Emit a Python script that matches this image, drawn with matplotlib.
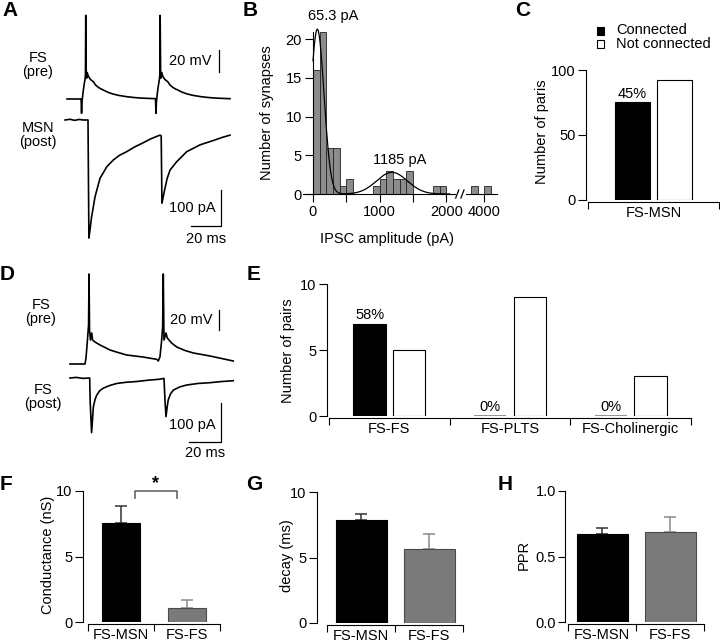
import numpy as np
import matplotlib
matplotlib.use('Agg')
import matplotlib.pyplot as plt
from matplotlib.patches import Rectangle

plt.rcParams['font.family'] = ['Liberation Sans', 'DejaVu Sans']
plt.rcParams['font.size'] = 10.5

# ---------------- data ----------------
# Panel A traces (time in ms, pre in mV, post in pA)
a_pre_t = [0, 9.4, 9.7, 10.0, 10.6, 11.3, 12.0, 12.3, 12.5, 12.8, 13.1, 13.5, 13.9, 14.6, 15.5,
           16.5, 17.6, 19.0, 20.9, 22.5, 24.2, 27, 30, 34, 39.8, 45, 50, 55, 59.0,
           59.3, 59.6, 60.2, 60.9, 61.6, 61.9, 62.1, 62.4, 62.7, 63.1, 63.5, 64.2, 65.1,
           66.1, 67.2, 68.6, 70.5, 72.1, 73.8, 76.6, 79.6, 83.6, 89.4, 94.6, 99.6, 104.6, 108.7]
a_pre_mv = [0, 0, -13, -3, 5, 12, 18, 22, 76, 26, 19, 24, 22, 20, 18,
            16.8, 15.7, 12.8, 10.6, 9.3, 8.2, 6.3, 4.8, 3.4, 2.1, 1.3, 0.8, 0.5, 0.3,
            -13, -3, 5, 12, 18, 22, 76, 26, 19, 24, 22, 20, 18,
            16.8, 15.7, 12.8, 10.6, 9.3, 8.2, 6.3, 4.8, 3.4, 2.1, 1.3, 0.8, 0.5, 0.3]
a_post_t = [-1.3, 2, 5, 8, 11, 14.0, 14.6, 15.3, 16.4, 18.7, 22, 26.5, 30.9, 35, 39.8, 45,
            50.9, 56, 62, 62.8, 63.3, 64.2, 65.3, 66.8, 68.7, 73.1, 79.8, 88.7, 97.5, 103, 108.7]
a_post_pa = [0, 2, -1, 1.5, 0, 0, -328, -306, -269, -213, -162, -130, -111, -98, -88, -75,
             -63, -52, -42, -44, -231, -212, -190, -162, -139, -116, -88, -69, -57, -49, -42]

# Panel D traces
d_pre_t = [0, 9.4, 10.0, 10.9, 11.6, 11.9, 12.2, 12.8, 13.6, 14.1, 15.6, 18.75, 21.9, 25, 30,
           35.4, 40.5, 45.6, 50, 54.2, 55.2, 56.25, 57.3, 57.9, 58.3, 58.75, 60.0, 60.8, 63.5,
           66.7, 71.9, 77.1, 82.3, 87.5, 94.8, 102]
d_pre_mv = [0, 0, 6, 24, 39, 90, 34, 24, 31, 24, 22, 19, 16.5, 14, 11.5,
            9, 8, 7, 5.8, 4.7, 3, 7.3, 24, 37, 90, 24, 31, 26, 21,
            17, 13.5, 11, 9.5, 8, 5.5, 3]
d_post_t = [0, 4, 8, 12.3, 12.6, 13.5, 14.6, 15.6, 16.7, 18.5, 20.8, 25, 29.2, 35, 41.7, 48,
            56.25, 58.75, 59.4, 60.0, 60.7, 61.4, 62.8, 64.6, 68.5, 72.9, 80, 87.5, 95, 102]
d_post_pa = [0, 1.5, -1, 0, -60, -140, -74, -56, -44, -33, -26, -19, -14, -11, -9, -6,
             -3, -1, -60, -99, -75, -56, -41, -31, -23, -18, -14, -12, -9, -7]

# Panel B histogram (bin left edges, pA) and fit
hist_left = [0, 100, 200, 300, 400, 500, 900, 1000, 1100, 1200, 1300, 1400, 1800, 1900, 3800, 4000]
hist_count = [16, 21, 6, 6, 1, 2, 1, 2, 3, 2, 2, 3, 1, 1, 1, 1]
fit_peaks = [65.3, 1185.0]
fit_amps = [21.3, 2.8]
fit_sds = [100.0, 230.0]
fit_labels = ['65.3 pA', '1185 pA']

# Panel C
c_groups = ['FS-MSN']
c_connected = [75]
c_not = [92]
c_pct = ['45%']

# Panel E
e_groups = ['FS-FS', 'FS-PLTS', 'FS-Cholinergic']
e_connected = [7, 0, 0]
e_not = [5, 9, 3]
e_pct = ['58%', '0%', '0%']

# Panels F, G, H
fgh_groups = ['FS-MSN', 'FS-FS']
cond_mean = [7.55, 1.05]
cond_sem = [1.3, 0.65]
decay_mean = [7.9, 5.65]
decay_sem = [0.45, 1.15]
ppr_mean = [0.675, 0.685]
ppr_sem = [0.04, 0.12]

# ---------------- figure ----------------
W, H = 720, 644
fig = plt.figure(figsize=(W / 100, H / 100), dpi=100)
PT = 0.72  # points per pixel
GRAY = '#7a7a7a'


def add_ax(x0, y0, x1, y1):
    return fig.add_axes([x0 / W, 1 - y1 / H, (x1 - x0) / W, (y1 - y0) / H])


def ftext(x, y, s, **kw):
    return fig.text(x / W, 1 - y / H, s, **kw)


def letter(x, y, s):
    ftext(x, y, s, fontsize=15, fontweight='bold', ha='left', va='center')


def trace_axes(box, t0_px, px_ms, base_px, px_unit):
    x0, y0, x1, y1 = box
    ax = add_ax(*box)
    ax.set_xlim((x0 - t0_px) / px_ms, (x1 - t0_px) / px_ms)
    ax.set_ylim((base_px - y1) / px_unit, (base_px - y0) / px_unit)
    ax.axis('off')
    return ax


LW = 1.2
# ---- Panel A ----
ax = trace_axes((55, 5, 240, 118), 67, 1.5, 99, 1.1)
ax.plot(a_pre_t, a_pre_mv, color='black', lw=LW, solid_joinstyle='round')
ax.plot([101.3, 101.3], [24.5, 44.5], color='black', lw=0.9)
ax.text(96.3, 34.5, '20 mV', ha='right', va='center')
ax = trace_axes((55, 110, 240, 248), 67, 1.5, 120, 0.36)
ax.plot(a_post_t, a_post_pa, color='black', lw=LW, solid_joinstyle='round')
ax.plot([82.7, 102.7, 102.7], [-294, -294, -194], color='black', lw=0.9)
ax.text(99.0, -244, '100 pA', ha='right', va='center')
ax.text(92.7, -331, '20 ms', ha='center', va='center')
ftext(38, 65, 'FS\n(pre)', ha='center', va='center', linespacing=1.05)
ftext(38, 135, 'MSN\n(post)', ha='center', va='center', linespacing=1.05)
letter(2, 11, 'A')

# ---- Panel D ----
ax = trace_axes((55, 265, 240, 372), 70, 1.6, 364, 1.0)
ax.plot(d_pre_t, d_pre_mv, color='black', lw=LW, solid_joinstyle='round')
ax.plot([93.1, 93.1], [34, 54], color='black', lw=0.9)
ax.text(89.2, 44, '20 mV', ha='right', va='center')
ax = trace_axes((55, 370, 240, 462), 70, 1.6, 378, 0.39)
ax.plot(d_post_t, d_post_pa, color='black', lw=LW, solid_joinstyle='round')
ax.plot([74.4, 94.4, 94.4], [-164, -164, -64], color='black', lw=0.9)
ax.text(91.0, -121, '100 pA', ha='right', va='center')
ax.text(84.4, -192, '20 ms', ha='center', va='center')
ftext(41, 312, 'FS\n(pre)', ha='center', va='center', linespacing=1.05)
ftext(43, 397, 'FS\n(post)', ha='center', va='center', linespacing=1.05)
letter(0, 274, 'D')


# ---- Panel B ----
def fwd(x):
    x = np.asarray(x, dtype=float)
    return np.where(x <= 2200, x, np.where(x < 3700, 2200 + (x - 2200) * 71 / 1500, x - 1429))


def inv(u):
    u = np.asarray(u, dtype=float)
    return np.where(u <= 2200, u, np.where(u < 2271, 2200 + (u - 2200) * 1500 / 71, u + 1429))


ax = add_ax(303, 31.5, 497, 194)
ax.set_xscale('function', functions=(fwd, inv))
ax.set_xlim(-150, 4190)
ax.set_ylim(0, 21)
ax.bar(hist_left, hist_count, width=100, align='edge', color='#8c8c8c', edgecolor='#222222', lw=0.6, zorder=2)
xs = np.linspace(0, 2050, 600)
fit = np.zeros_like(xs)
for m, a, s in zip(fit_peaks, fit_amps, fit_sds):
    fit += a * np.exp(-(xs - m) ** 2 / (2 * s ** 2))
ax.plot(xs, fit, color='black', lw=0.9, zorder=3, clip_on=False)
ax.text(300, 23.0, fit_labels[0], ha='center', va='center', clip_on=False)
ax.text(1300, 4.4, fit_labels[1], ha='center', va='center')
for sp in ['top', 'right']:
    ax.spines[sp].set_visible(False)
ax.spines['left'].set_position(('data', 0))
ax.set_xticks([0, 500, 1000, 1500, 2000, 4000])
ax.set_xticklabels(['0', '', '1000', '', '2000', '4000'])
ax.xaxis.set_minor_locator(matplotlib.ticker.NullLocator())
ax.set_yticks([0, 5, 10, 15, 20])
ax.tick_params(direction='out', length=6, width=0.8, pad=2)
# axis break
ax.add_patch(Rectangle((0.79, -0.02), 0.05, 0.04, transform=ax.transAxes, facecolor='white',
                       edgecolor='none', clip_on=False, zorder=5))
for xb in (0.795, 0.822):
    ax.plot([xb - 0.008, xb + 0.008], [-0.025, 0.025], transform=ax.transAxes, color='black',
            lw=0.9, clip_on=False, zorder=6)
ftext(267, 113, 'Number of synapses', rotation=90, ha='center', va='center')
ftext(387, 239, 'IPSC amplitude (pA)', ha='center', va='center')
letter(243, 11, 'B')


def style_cat_axes(ax, ncat, labels, left_out=2, bottom_out=2, ylen=6):
    for sp in ['top', 'right']:
        ax.spines[sp].set_visible(False)
    ax.spines['left'].set_position(('outward', left_out * PT))
    ax.spines['bottom'].set_position(('outward', bottom_out * PT))
    ax.set_xlim(-0.5, ncat - 0.5)
    ax.spines['bottom'].set_bounds(-0.5, ncat - 0.5)
    ax.set_xticks(np.arange(ncat + 1) - 0.5)
    ax.set_xticklabels([])
    ax.set_xticks(np.arange(ncat), minor=True)
    ax.set_xticklabels(labels, minor=True)
    ax.tick_params(axis='x', which='major', direction='out', length=5, width=0.8)
    ax.tick_params(axis='x', which='minor', length=0, pad=3)
    ax.tick_params(axis='y', direction='out', length=ylen, width=0.8, pad=1.5)


def draw_connected(ax, xpos, vals, width):
    # filled bars for the non-zero counts, a flat gray stroke where the count is zero
    ax.bar(xpos, vals, width=width, color='black', edgecolor='black', lw=0.8)
    for xp, v in zip(xpos, vals):
        if v == 0:
            ax.hlines(v, xp - width / 2, xp + width / 2, color='#8a8a8a', lw=1.3)


BW = 0.267
OFF = 0.164
# ---- Panel C ----
ax = add_ax(588, 70, 719, 200)
x = np.arange(len(c_groups))
draw_connected(ax, x - OFF, c_connected, BW)
ax.bar(x + OFF, c_not, width=BW, color='white', edgecolor='black', lw=0.8)
for i, p in enumerate(c_pct):
    ax.annotate(p, (x[i] - OFF, c_connected[i]), xytext=(0, 1), textcoords='offset points',
                ha='center', va='bottom')
ax.set_ylim(0, 100)
ax.set_yticks([0, 50, 100])
style_cat_axes(ax, len(c_groups), c_groups)
ax.spines['left'].set_bounds(0, 100)
ftext(542, 132, 'Number of paris', rotation=90, ha='center', va='center')
fig.add_artist(Rectangle((597 / W, 1 - 34.5 / H), 7 / W, 7 / H, transform=fig.transFigure,
                         facecolor='black', edgecolor='black', lw=0.8))
fig.add_artist(Rectangle((597 / W, 1 - 47.5 / H), 7 / W, 7 / H, transform=fig.transFigure,
                         facecolor='white', edgecolor='black', lw=0.8))
ftext(616, 30.5, 'Connected', ha='left', va='center')
ftext(616, 44, 'Not connected', ha='left', va='center')
letter(515, 11, 'C')

# ---- Panel E ----
ax = add_ax(329, 284, 691, 416)
x = np.arange(len(e_groups))
draw_connected(ax, x - OFF, e_connected, BW)
ax.bar(x + OFF, e_not, width=BW, color='white', edgecolor='black', lw=0.8)
for i, p in enumerate(e_pct):
    ax.annotate(p, (x[i] - OFF, e_connected[i]), xytext=(0, 1.5), textcoords='offset points',
                ha='center', va='bottom')
ax.set_ylim(0, 10)
ax.set_yticks([0, 5, 10])
style_cat_axes(ax, len(e_groups), e_groups)
ax.spines['left'].set_bounds(0, 10)
ftext(288, 351, 'Number of pairs', rotation=90, ha='center', va='center')
letter(247, 274, 'E')


def summary_panel(box, means, sems, width, ylim, yticks, ytl, ylabel, ylab_x, left_out, ylen=6):
    ax = add_ax(*box)
    x = np.arange(len(fgh_groups))
    ax.bar(x, means, width=width, color=['black', GRAY], edgecolor=['black', '#4a4a4a'], lw=0.8, zorder=2)
    for i in range(len(x)):
        ax.errorbar(x[i], means[i], yerr=[[0], [sems[i]]], fmt='none',
                    ecolor='#333333' if i == 0 else '#8a8a8a', elinewidth=1.1, capsize=4.5,
                    capthick=1.1, zorder=1)
    ax.set_ylim(*ylim)
    ax.set_yticks(yticks)
    ax.set_yticklabels(ytl)
    style_cat_axes(ax, len(fgh_groups), fgh_groups, left_out=left_out, ylen=ylen)
    ax.spines['left'].set_bounds(*ylim)
    yc = (box[1] + box[3]) / 2
    ftext(ylab_x, yc - 2, ylabel, rotation=90, ha='center', va='center')
    return ax


# ---- Panel F ----
ax = summary_panel((88, 491, 220, 622), cond_mean, cond_sem, 0.58, (0, 10), [0, 5, 10],
                   ['0', '5', '10'], 'Conductance (nS)', 48, 5)
ax.plot([0.21, 0.21, 0.85, 0.85], [9.47, 10, 10, 9.47], color='#666666', lw=1.2, clip_on=False)
ax.text(0.53, 10.6, '*', ha='center', va='center', fontsize=13, fontweight='bold', clip_on=False)
letter(0, 485, 'F')

# ---- Panel G ----
summary_panel((327, 492, 463, 623), decay_mean, decay_sem, 0.75, (0, 10), [0, 5, 10],
              ['0', '5', '10'], 'decay (ms)', 287, 10)
letter(246, 485, 'G')

# ---- Panel H ----
hax = summary_panel((568, 491, 704, 622), ppr_mean, ppr_sem, 0.75, (0, 1.0), [0, 0.5, 1.0],
                    ['0.0', '0.5', '1.0'], 'PPR', 524, 3, ylen=5)
letter(498, 485, 'H')

fig.savefig('out.png', dpi=100)
